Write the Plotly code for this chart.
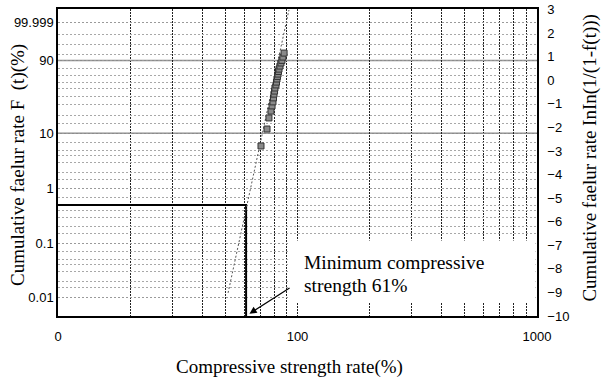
import numpy as np
import plotly.graph_objects as go

# ---- data ----
# strength rate (%) and Weibull ordinate lnln(1/(1-F)) of the plotted specimens
strength = [70.4, 74.6, 76.0, 77.5, 78.3, 79.0, 79.4, 79.8, 80.2, 80.5, 81.3,
            81.7, 82.1, 82.5, 82.9, 83.3, 83.7, 84.5, 85.3, 86.1, 86.9, 87.9]
lnln = [-2.79, -2.07, -1.60, -1.31, -1.09, -0.92, -0.75, -0.59, -0.46, -0.33, -0.20,
        -0.08, 0.05, 0.16, 0.26, 0.37, 0.47, 0.60, 0.73, 0.84, 0.98, 1.15]

# fitted Weibull line (end points)
fit_x = [51.3, 92.1]
fit_y = [-9.02, 2.98]

# minimum compressive strength marker
min_strength = 61
min_F_pct = 0.5

# axis labels / grid values
left_label_F = [99.999, 90, 10, 1, 0.1, 0.01]
left_label_text = ["99.999", "90", "10", "1", "0.1", "0.01"]
grid_F = [99.9, 99, 95, 80, 70, 60, 50, 40, 30, 20, 15, 7, 5, 4, 3, 2, 1.5,
          0.7, 0.5, 0.4, 0.3, 0.2, 0.15, 0.07, 0.05, 0.04, 0.03, 0.02, 0.015]
solid_grid_F = [90, 10]
x_tick_vals = [10, 100, 1000]
x_tick_text = ["0", "100", "1000"]
x_minor_vals = [20, 30, 40, 50, 60, 70, 80, 90, 200, 300, 400, 500, 600, 700, 800, 900]
right_ticks = list(range(-10, 4))


def weib(fpct):
    f = np.asarray(fpct, dtype=float) / 100.0
    return np.log(-np.log(1.0 - f))


YR = [-10, 3.02]
serif = "Liberation Serif, Times New Roman, serif"
sans = "Liberation Sans, Arial, sans-serif"

fig = go.Figure()

# black min-strength line
y_min = float(weib([min_F_pct])[0])
fig.add_trace(go.Scatter(x=[10, min_strength, min_strength], y=[y_min, y_min, YR[0]],
                         mode="lines", line=dict(color="black", width=2),
                         showlegend=False, hoverinfo="skip", cliponaxis=False))

# fitted line
fig.add_trace(go.Scatter(x=fit_x, y=fit_y, mode="lines",
                         line=dict(color="#555", width=1, dash="2px,2px"),
                         showlegend=False))

# data points
fig.add_trace(go.Scatter(x=strength, y=lnln, mode="markers",
                         marker=dict(symbol="square", size=6, color="#8a8a8a",
                                     line=dict(color="#333", width=1)),
                         showlegend=False))

# dummy trace for right axis
fig.add_trace(go.Scatter(x=[100], y=[0], yaxis="y2", mode="markers",
                         marker=dict(opacity=0), showlegend=False, hoverinfo="skip"))

shapes = []
for f in solid_grid_F:
    yv = float(weib([f])[0])
    shapes.append(dict(type="line", xref="paper", x0=0, x1=1, yref="y", y0=yv, y1=yv,
                       line=dict(color="#8c8c8c", width=1.5), layer="below"))
# white box behind annotation text
shapes.append(dict(type="rect", xref="x", yref="y", x0=93, x1=985, y0=-9.45, y1=-6.8,
                   fillcolor="white", line=dict(width=0), layer="above"))

lx = np.log10
annotations = [
    dict(x=lx(63), y=-9.9, xref="x", yref="y", ax=lx(94), ay=-8.77, axref="x", ayref="y",
         text="", showarrow=True, arrowhead=2, arrowsize=1.2, arrowwidth=1.2,
         arrowcolor="black"),
    dict(x=lx(104), y=-7.71, xref="x", yref="y", xanchor="left", yanchor="middle",
         text="Minimum compressive", showarrow=False,
         font=dict(family=serif, size=19.5, color="black")),
    dict(x=lx(104), y=-8.69, xref="x", yref="y", xanchor="left", yanchor="middle",
         text="strength 61%", showarrow=False,
         font=dict(family=serif, size=19.5, color="black")),
    dict(x=0.484, y=-0.166, xref="paper", yref="paper", xanchor="center", yanchor="middle",
         text="Compressive strength rate(%)", showarrow=False,
         font=dict(family=serif, size=19, color="black")),
    dict(x=-0.0835, y=0.492, xref="paper", yref="paper", xanchor="center", yanchor="middle",
         text="Cumulative faelur rate F  (t)(%)", textangle=-90, showarrow=False,
         font=dict(family=serif, size=19, color="black")),
    dict(x=1.1106, y=0.516, xref="paper", yref="paper", xanchor="center", yanchor="middle",
         text="Cumulative faelur rate InIn(1/(1-f(t)))", textangle=-90, showarrow=False,
         font=dict(family=serif, size=19, color="black")),
]

fig.update_layout(
    width=603, height=378,
    margin=dict(l=58, r=66, t=9, b=62, autoexpand=False),
    paper_bgcolor="white", plot_bgcolor="white",
    showlegend=False,
    shapes=shapes, annotations=annotations,
    xaxis=dict(type="log", range=[1, 3], automargin=False,
               tickmode="array", tickvals=x_tick_vals, ticktext=x_tick_text,
               tickfont=dict(family=sans, size=13, color="black"),
               ticks="", ticklabelstandoff=8,
               showgrid=True, gridcolor="#222", gridwidth=1, griddash="2px,1px",
               minor=dict(tickvals=x_minor_vals, showgrid=True, gridcolor="#222",
                          gridwidth=1, griddash="2px,1px", ticks=""),
               showline=True, linecolor="black", linewidth=1.5, mirror=True,
               zeroline=False),
    yaxis=dict(range=YR, tickmode="array", automargin=False,
               tickvals=list(weib(left_label_F)), ticktext=left_label_text,
               tickfont=dict(family=sans, size=13, color="black"),
               ticks="", showgrid=True, gridcolor="#9a9a9a", gridwidth=1, griddash="2px,2px",
               minor=dict(tickvals=list(weib(grid_F)), showgrid=True, gridcolor="#a8a8a8",
                          gridwidth=1, griddash="2px,2px", ticks=""),
               showline=True, linecolor="black", linewidth=1.5, mirror=True,
               zeroline=False),
    yaxis2=dict(range=YR, overlaying="y", side="right", tickmode="array", automargin=False,
                tickvals=right_ticks, tickfont=dict(family=sans, size=13, color="black"),
                ticks="", ticklabelstandoff=6, ticklabeloverflow="allow",
                showgrid=False, zeroline=False,
                showline=True, linecolor="black", linewidth=1.5),
)

# remove the default 8px page margin so the figure fills the 603x378 window exactly
fig.write_html("out.html", config={"displayModeBar": False},
               post_script="document.body.style.margin='0';")
